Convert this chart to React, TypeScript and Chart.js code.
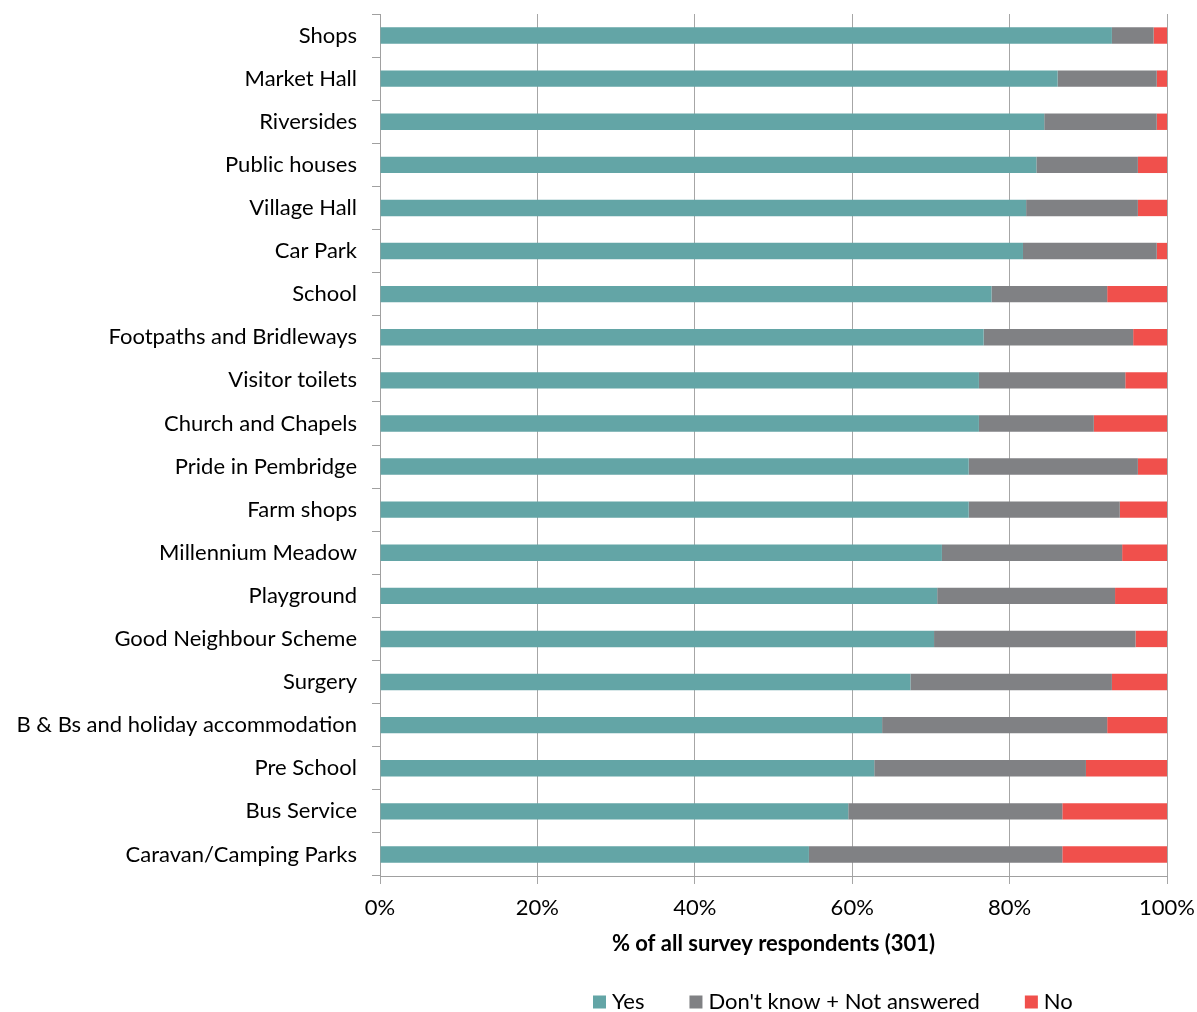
import React, { useEffect, useRef } from "react";
import { Chart, registerables } from "chart.js";

Chart.register(...registerables);

const categories = [
  "Shops",
  "Market Hall",
  "Riversides",
  "Public houses",
  "Village Hall",
  "Car Park",
  "School",
  "Footpaths and Bridleways",
  "Visitor toilets",
  "Church and Chapels",
  "Pride in Pembridge",
  "Farm shops",
  "Millennium Meadow",
  "Playground",
  "Good Neighbour Scheme",
  "Surgery",
  "B & Bs and holiday accommodation",
  "Pre School",
  "Bus Service",
  "Caravan/Camping Parks",
];

const yesValues = [93.0, 86.1, 84.4, 83.4, 82.1, 81.7, 77.7, 76.7, 76.1, 76.1, 74.8, 74.8, 71.4, 70.8, 70.4, 67.4, 63.8, 62.8, 59.5, 54.5];
const dontKnowValues = [5.3, 12.6, 14.3, 12.9, 14.2, 17.0, 14.7, 19.0, 18.6, 14.6, 21.5, 19.2, 22.9, 22.6, 25.6, 25.6, 28.6, 26.9, 27.2, 32.2];
const noValues = [1.7, 1.3, 1.3, 3.7, 3.7, 1.3, 7.6, 4.3, 5.3, 9.3, 3.7, 6.0, 5.7, 6.6, 4.0, 7.0, 7.6, 10.3, 13.3, 13.3];

const seriesNames = ["Yes", "Don't know + Not answered", "No"];
const seriesColors = ["#63A5A6", "#808184", "#F0504C"];
const xTickValues = [0, 20, 40, 60, 80, 100];
const xTitle = "% of all survey respondents (301)";

const FONT = "Lato, 'Open Sans', sans-serif";

const legendPlugin = {
  id: "customLegend",
  afterDraw(chart: any) {
    const ctx = chart.ctx;
    ctx.save();
    ctx.font = `22px ${FONT}`;
    ctx.textBaseline = "middle";
    ctx.textAlign = "left";
    const box = 13;
    const gapBoxText = 6;
    const gapItems = 45;
    const y = 1002;
    let x = 593;
    seriesNames.forEach((name, i) => {
      ctx.fillStyle = seriesColors[i];
      ctx.fillRect(x, y - box / 2, box, box);
      x += box + gapBoxText;
      ctx.fillStyle = "#000";
      ctx.fillText(name, x, y);
      x += ctx.measureText(name).width + gapItems;
    });
    ctx.restore();
  },
};

const zeroPadding = (scale: any) => {
  scale.paddingTop = 0;
  scale.paddingBottom = 0;
  scale.paddingLeft = 0;
  scale.paddingRight = 0;
};

export default function App() {
  const canvasRef = useRef<HTMLCanvasElement | null>(null);

  useEffect(() => {
    if (!canvasRef.current) return;
    const data = [yesValues, dontKnowValues, noValues];
    const chart = new Chart(canvasRef.current, {
      type: "bar",
      data: {
        labels: categories,
        datasets: seriesNames.map((name, i) => ({
          label: name,
          data: data[i],
          backgroundColor: seriesColors[i],
          borderWidth: 0,
          barPercentage: 0.38,
          categoryPercentage: 1,
        })),
      },
      options: {
        indexAxis: "y",
        responsive: false,
        animation: false,
        layout: { padding: { top: 14, right: 30, bottom: 55, left: 0 } },
        plugins: {
          legend: { display: false },
          tooltip: { enabled: false },
          title: { display: false },
        },
        scales: {
          x: {
            stacked: true,
            min: 0,
            max: 100,
            afterBuildTicks(scale: any) {
              scale.ticks = xTickValues.map((v) => ({ value: v }));
            },
            afterFit(scale: any) {
              scale.height = 81;
              zeroPadding(scale);
            },
            ticks: {
              callback: (v: any) => `${v}%`,
              color: "#000",
              font: { family: FONT, size: 22 },
              padding: 11,
              maxRotation: 0,
            },
            grid: {
              color: "#A6A6A6",
              lineWidth: 1,
              drawOnChartArea: true,
              drawTicks: true,
              tickLength: 8,
            },
            border: { display: true, color: "#A0A0A0", width: 1 },
            title: {
              display: true,
              text: xTitle,
              color: "#000",
              font: { family: FONT, size: 22, weight: "bold" },
              padding: { top: 0, bottom: 0 },
            },
          },
          y: {
            stacked: true,
            afterFit(scale: any) {
              scale.width = 380;
              zeroPadding(scale);
            },
            ticks: {
              color: "#000",
              font: { family: FONT, size: 22 },
              padding: 15,
              autoSkip: false,
            },
            grid: {
              color: "#A0A0A0",
              lineWidth: 1,
              drawOnChartArea: false,
              drawTicks: true,
              tickLength: 8,
              offset: true,
            },
            border: { display: true, color: "#A0A0A0", width: 1 },
          },
        },
      },
      plugins: [legendPlugin],
    } as any);
    return () => chart.destroy();
  }, []);

  return (
    <div style={{ position: "absolute", left: 0, top: 0, width: 1197, height: 1012, background: "#fff" }}>
      <canvas ref={canvasRef} width={1197} height={1012} style={{ display: "block" }} />
    </div>
  );
}
